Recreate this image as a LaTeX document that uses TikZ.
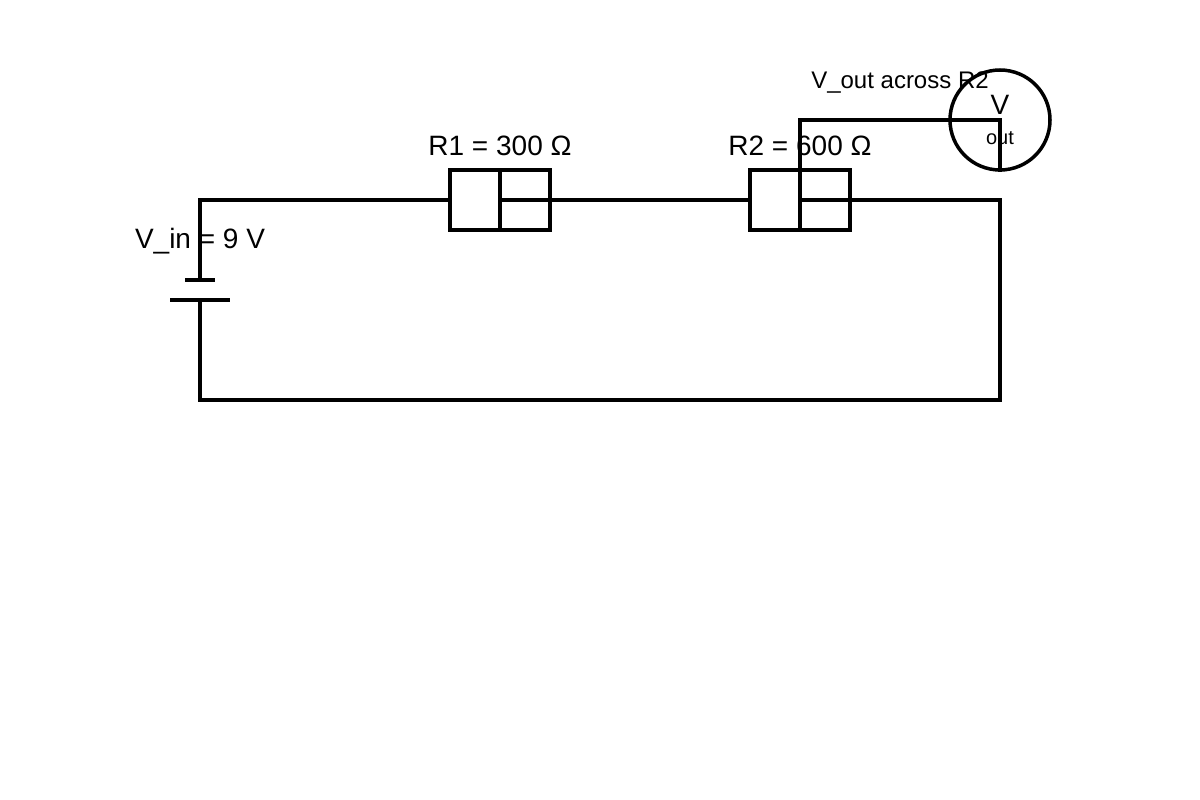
\documentclass[tikz,border=0pt]{standalone}
\usepackage{fontspec}
\setmainfont{Liberation Sans}
\begin{document}
\begin{tikzpicture}[x=1pt,y=-1pt,
  w/.style={line width=3.5pt},
  lbl/.style={font=\fontsize{28}{32}\selectfont,inner sep=0pt},
  sm/.style={font=\fontsize{24}{28}\selectfont,inner sep=0pt}]
\useasboundingbox (0,0) rectangle (1200,800);
\coordinate (tl) at (200,200); \coordinate (tr) at (1000,200);
\coordinate (bl) at (200,400); \coordinate (br) at (1000,400);
\coordinate (r1l) at (450,200); \coordinate (r1m) at (500,200); \coordinate (r1r) at (550,200);
\coordinate (r2l) at (750,200); \coordinate (r2m) at (800,200); \coordinate (r2r) at (850,200);
\coordinate (bt) at (200,280); \coordinate (bb) at (200,300);
\coordinate (vt) at (800,120);
\node[draw,circle,w,minimum size=100pt,inner sep=0pt] (vm) at (1000,120) {};
% wires
\draw[w] (bt) -- (tl) -- (r1l);
\draw[w] (r1r) -- (r2l);
\draw[w] (r2r) -- (tr) -- (br) -- (bl) -- (bb);
% resistors
\draw[w] (450,170) rectangle (550,230);
\draw[w] (500,170) -- (500,230);
\draw[w] (r1m) -- (r1r);
\draw[w] (750,170) rectangle (850,230);
\draw[w] (800,230) -- (vt) -- (vm.center) -- (vm.south);
\draw[w] (r2m) -- (r2r);
% battery
\draw[w] (185,280) -- (215,280);
\draw[w] (170,300) -- (230,300);
% labels
\node[lbl] (vin) at (200,241) {V\_in = 9 V};
\node[lbl] (l1) at (500,146) {R1 = 300 Ω};
\node[lbl] (l2) at (800,146) {R2 = 600 Ω};
\node[sm] (la) at (900,83) {V\_out across R2};
\node[lbl] (lv) at (1000,105) {V};
\node[font=\fontsize{20}{24}\selectfont,inner sep=0pt] (lo) at (1000,138) {out};
\end{tikzpicture}
\end{document}
